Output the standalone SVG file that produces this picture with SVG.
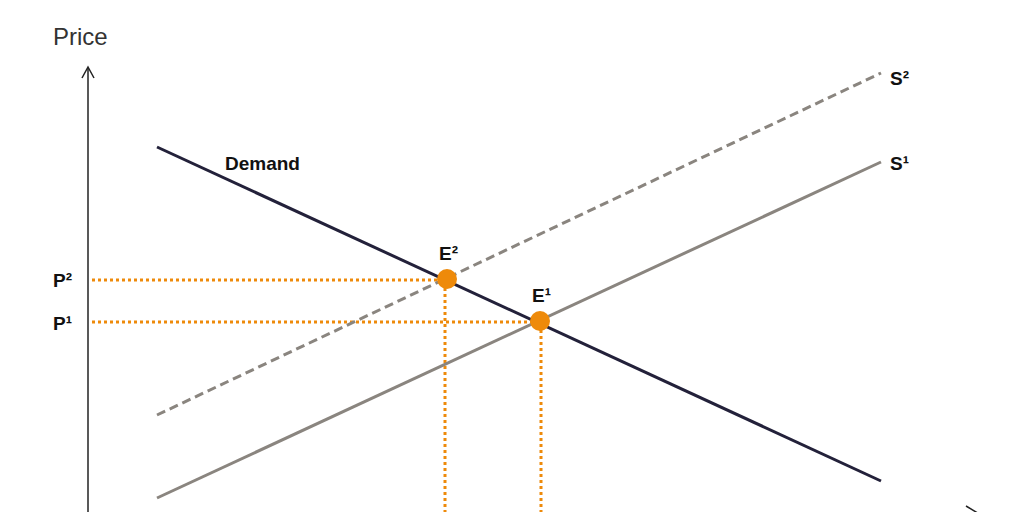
<svg xmlns="http://www.w3.org/2000/svg" width="1024" height="512" viewBox="0 0 1024 512">
<style>
.lbl{font-family:"Liberation Sans",Arial,sans-serif;font-weight:bold;font-size:19px;fill:#111}
.dot{stroke:#ee8a0a;stroke-width:3;stroke-dasharray:3 3;fill:none}
</style>
<rect width="1024" height="512" fill="#fff"/>
<g id="axes" fill="none" stroke="#222" stroke-width="1.5">
<line x1="88" y1="512" x2="88" y2="68"/>
<polyline points="82,78 88,67 94,78"/>
<polyline points="966,506 976,512 966,518"/>
<line x1="90" y1="514" x2="976" y2="514"/>
</g>
<text x="53" y="45" font-family="Liberation Sans,Arial,sans-serif" font-size="24" fill="#333">Price</text>
<g id="connectors">
<line class="dot" x1="92" y1="280" x2="447" y2="280"/>
<line class="dot" x1="92" y1="322" x2="540" y2="322"/>
<line class="dot" x1="445" y1="282" x2="445" y2="512"/>
<line class="dot" x1="541" y1="324" x2="541" y2="512"/>
<line x1="157" y1="415" x2="881" y2="73" stroke="#8a857f" stroke-width="3" stroke-dasharray="9 5"/>
<line x1="157" y1="498" x2="881" y2="162" stroke="#8a857f" stroke-width="3"/>
<line x1="157" y1="147" x2="881" y2="481" stroke="#23213a" stroke-width="3"/>
</g>
<g id="E2"><circle cx="447" cy="279" r="10" fill="#ee8a0a"/><text class="lbl" x="439" y="260">E²</text></g>
<g id="E1"><circle cx="540" cy="321" r="10" fill="#ee8a0a"/><text class="lbl" x="532" y="302">E¹</text></g>
<g id="labels">
<text class="lbl" x="225" y="170">Demand</text>
<text class="lbl" x="890" y="85">S²</text>
<text class="lbl" x="890" y="170">S¹</text>
<text class="lbl" x="53" y="287">P²</text>
<text class="lbl" x="53" y="330">P¹</text>
</g>
</svg>
